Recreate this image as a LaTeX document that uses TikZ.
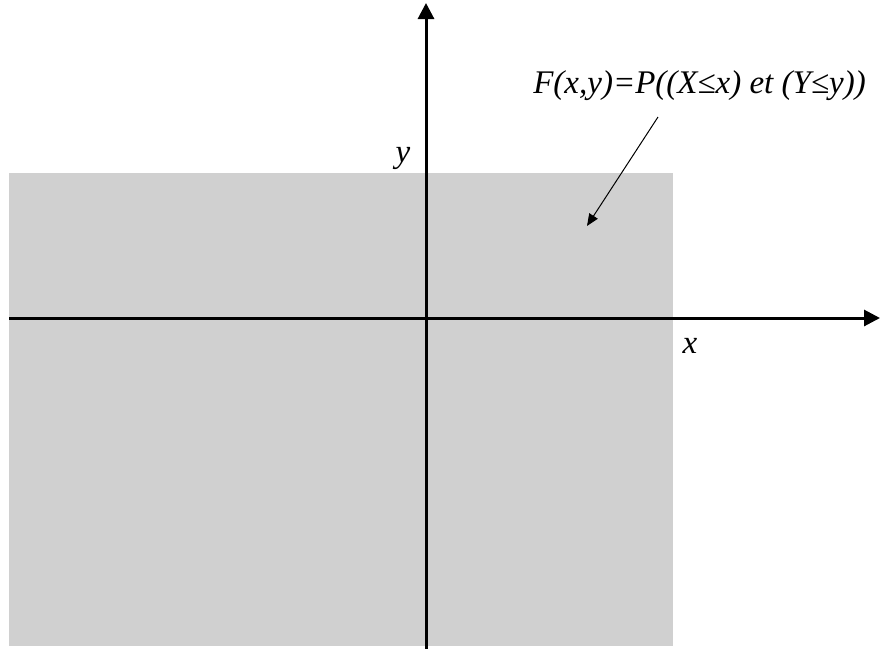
\documentclass[tikz,border=0pt]{standalone}
\usepackage{fontspec}
\setmainfont{Liberation Serif}
\usetikzlibrary{arrows.meta,positioning}
\definecolor{cdfshade}{RGB}{208,208,208}
\definecolor{cdfink}{RGB}{0,0,0}
\tikzset{
  region/.style={fill=cdfshade, draw=none},
  axis/.style={-{Triangle[length=8pt,width=8pt]}, line width=1.5pt, draw=cdfink},
  pointer/.style={-{Triangle[length=6pt,width=5pt]}, line width=0.5pt, draw=cdfink},
  lbl/.style={font=\fontsize{16.5}{18}\itshape, inner sep=0pt}
}
\begin{document}
\begin{tikzpicture}[x=0.5pt, y=-0.5pt]
      \useasboundingbox (0,0) rectangle (880,649);
      \fill[region] (9,173) rectangle (673,646);
      \coordinate (xstart) at (9,318);
      \coordinate (xend) at (880,318);
      \coordinate (ystart) at (426,649);
      \coordinate (yend) at (426,3);
      \draw[axis] (xstart) -- (xend);
      \draw[axis] (ystart) -- (yend);
      \node[lbl, anchor=base] (ylabel) at (403,162) {y};
      \node[lbl, anchor=base] (xlabel) at (690,353) {x};
      \node[lbl, anchor=base] (formula) at (699.5,93) {F(x,y)=P((X≤x) et (Y≤y))};
      \coordinate (pick) at (658,117);
      \coordinate (target) at (587,226);
      \draw[pointer] (pick) -- (target);
    \end{tikzpicture}
\end{document}
